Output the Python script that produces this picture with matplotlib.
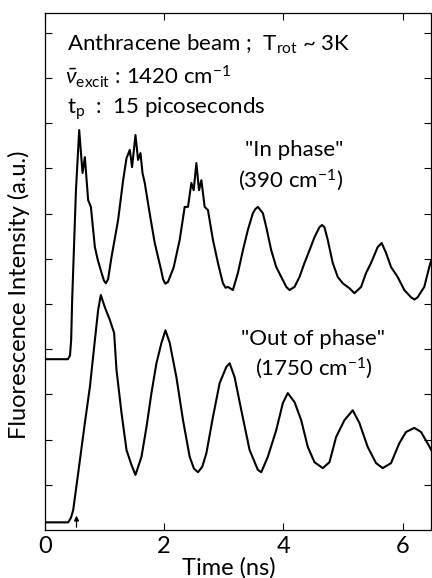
import matplotlib
matplotlib.use('Agg')
import matplotlib.pyplot as plt

# In-phase trace (390 cm-1): time (ns), intensity (a.u.)
t_in = [0.0, 0.385, 0.42, 0.44, 0.457, 0.486, 0.52, 0.575, 0.631, 0.670, 0.725, 0.771,
        0.838, 0.888, 0.950, 0.990, 1.022, 1.060, 1.117, 1.228, 1.312, 1.369, 1.424,
        1.462, 1.519, 1.563, 1.603, 1.637, 1.675, 1.730, 1.776, 1.843, 1.898, 1.950,
        1.982, 2.020, 2.065, 2.160, 2.261, 2.345, 2.400, 2.457, 2.496, 2.541, 2.585,
        2.625, 2.680, 2.735, 2.819, 2.903, 2.960, 2.987, 3.030, 3.070, 3.154, 3.238,
        3.322, 3.405, 3.489, 3.530, 3.573, 3.615, 3.657, 3.714, 3.797, 3.881, 3.992,
        4.050, 4.104, 4.188, 4.271, 4.355, 4.439, 4.523, 4.606, 4.650, 4.690, 4.745,
        4.829, 4.913, 4.997, 5.109, 5.193, 5.305, 5.389, 5.472, 5.583, 5.650, 5.724,
        5.807, 5.918, 6.030, 6.142, 6.200, 6.253, 6.365, 6.449, 6.482]
y_in = [3.78, 3.78, 3.86, 4.20, 5.09, 6.20, 7.50, 8.85, 7.90, 8.25, 7.30, 7.15,
        6.26, 5.97, 5.69, 5.52, 5.46, 5.55, 6.04, 6.86, 7.74, 8.23, 8.41,
        8.03, 8.74, 8.19, 8.34, 7.90, 7.68, 7.23, 6.86, 6.35, 6.04, 5.75,
        5.55, 5.45, 5.49, 5.81, 6.42, 7.15, 7.15, 7.68, 7.52, 8.12, 7.52,
        7.74, 7.15, 7.08, 6.42, 5.91, 5.60, 5.46, 5.36, 5.38, 5.31, 5.69,
        6.19, 6.64, 7.01, 7.10, 7.15, 7.08, 7.01, 6.70, 6.19, 5.82, 5.53,
        5.38, 5.31, 5.38, 5.60, 5.91, 6.19, 6.48, 6.70, 6.75, 6.70, 6.42,
        5.91, 5.60, 5.46, 5.35, 5.24, 5.38, 5.69, 5.91, 6.26, 6.35, 6.13,
        5.82, 5.60, 5.31, 5.15, 5.10, 5.15, 5.38, 5.82, 5.97]

# Out-of-phase trace (1750 cm-1)
t_out = [0.0, 0.390, 0.436, 0.474, 0.558, 0.670, 0.754, 0.838, 0.893, 0.938, 1.005,
         1.089, 1.161, 1.201, 1.285, 1.369, 1.452, 1.519, 1.620, 1.704, 1.787, 1.871,
         1.955, 2.022, 2.094, 2.206, 2.317, 2.429, 2.500, 2.568, 2.640, 2.709, 2.819,
         2.931, 3.044, 3.099, 3.183, 3.295, 3.434, 3.573, 3.630, 3.740, 3.881, 3.992,
         4.075, 4.188, 4.300, 4.410, 4.523, 4.662, 4.774, 4.886, 5.025, 5.164, 5.276,
         5.415, 5.556, 5.667, 5.807, 5.946, 6.059, 6.198, 6.310, 6.420, 6.482]
y_out = [0.17, 0.17, 0.27, 0.44, 1.26, 2.37, 3.16, 4.20, 4.87, 5.20, 4.93,
         4.65, 4.36, 3.54, 2.59, 1.77, 1.44, 1.22, 1.62, 2.28, 3.03, 3.69,
         4.14, 4.42, 4.14, 3.38, 2.43, 1.62, 1.36, 1.28, 1.40, 1.70, 2.50,
         3.25, 3.61, 3.69, 3.38, 2.65, 1.77, 1.33, 1.28, 1.62, 2.21, 2.81,
         3.03, 2.83, 2.43, 1.84, 1.50, 1.37, 1.50, 2.06, 2.43, 2.65, 2.37,
         1.84, 1.48, 1.37, 1.48, 1.92, 2.17, 2.26, 2.17, 1.92, 1.77]

x_ticks = [0, 2, 4, 6]
y_ticks = list(range(1, 12))
arrow_t = 0.53

plt.rcParams['font.family'] = ['Lato', 'DejaVu Sans']
plt.rcParams['mathtext.fontset'] = 'custom'
plt.rcParams['mathtext.rm'] = 'Lato'
plt.rcParams['mathtext.it'] = 'Lato:italic'

fig = plt.figure(figsize=(4.32, 5.78), dpi=100)
ax = fig.add_axes([0.104, 0.083, 0.894, 0.8945])

ax.plot(t_in, y_in, color='black', lw=1.5)
ax.plot(t_out, y_out, color='black', lw=1.5)

# excitation marker
ax.annotate('', xy=(arrow_t, 0.38), xytext=(arrow_t, 0.0),
            arrowprops=dict(arrowstyle='-|>', color='black', lw=0.9,
                            mutation_scale=7))

ax.set_xlim(0, 6.48)
ax.set_ylim(0, 11.44)
ax.set_xticks(x_ticks)
ax.set_yticks(y_ticks)
ax.set_yticklabels([])
ax.tick_params(direction='in', top=True, right=True, length=5, width=0.8,
               labelsize=17, pad=4)
for sp in ax.spines.values():
    sp.set_linewidth(0.9)

ax.set_xlabel('Time (ns)', fontsize=17)
ax.xaxis.set_label_coords(0.477, -0.052)
ax.set_ylabel('Fluorescence Intensity (a.u.)', fontsize=17)
ax.yaxis.set_label_coords(-0.038, 0.455)

kw = dict(fontsize=16, color='black')
ax.text(0.37, 10.75, r'Anthracene beam ;  T$_{\rm rot}$ ~ 3K', va='center', **kw)
ax.text(0.33, 10.02, r'$\bar{\nu}_{\rm excit}$ : 1420 cm$^{-1}$', va='center', **kw)
ax.text(0.37, 9.33, r't$_{\rm p}$  :  15 picoseconds', va='center', **kw)
ax.text(4.19, 8.41, '"In phase"', ha='center', va='center', **kw)
ax.text(4.12, 7.74, r'(390 cm$^{-1}$)', ha='center', va='center', **kw)
ax.text(4.49, 4.23, '"Out of phase"', ha='center', va='center', **kw)
ax.text(4.51, 3.58, r'(1750 cm$^{-1}$)', ha='center', va='center', **kw)

fig.savefig('out.png', dpi=100)
